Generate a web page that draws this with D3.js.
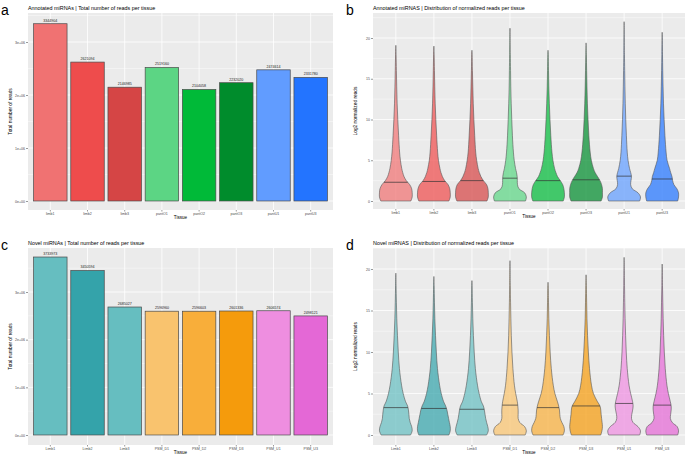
<!DOCTYPE html>
<html>
<head>
<meta charset="utf-8">
<script src="https://cdn.jsdelivr.net/npm/d3@7"></script>
<style>
  body { margin: 0; background: #fff; }
  text { font-family: "Liberation Sans", Arial, sans-serif; }
</style>
</head>
<body>
<div class="container"></div>
<script>
const w = 685
const h = 454

// panel a / c: total reads
const tissuesA = ["limb1","limb2","limb3","pantO1","pantO2","pantO3","pantU1","pantU3"]
const readsA = [3344904, 2621094, 2146985, 2519160, 2104058, 2232020, 2474614, 2331780]
const colorsA = ["#F07272","#EE4C4C","#D54545","#5CD584","#00BA38","#008C2C","#619CFF","#2374FF"]

const tissuesC = ["Limb1","Limb2","Limb3","PSM_D1","PSM_D2","PSM_D3","PSM_U1","PSM_U3"]
const readsC = [3733973, 3450594, 2685027, 2596960, 2596603, 2601336, 2606574, 2498121]
const colorsC = ["#66BEC0","#34A3AA","#66BEC0","#F9C36E","#F8AE3A","#F59B0C","#EE8EE0","#E468D6"]

const yTicksBars = [0, 1e6, 2e6, 3e6]
const yTicksViolin = [0, 5, 10, 15, 20]

// violin panels b / d: relative density at these log2 levels
const levels = [0, 0.5, 1, 1.5, 2, 2.5, 3, 3.5, 4, 5, 6, 8, 10, 12, 14, 16, 18]

const densB = [
  [0.92,1,1,0.97,0.85,0.64,0.5,0.42,0.36,0.28,0.23,0.17,0.12,0.08,0.055,0.035,0.015],
  [0.92,1,1,0.97,0.87,0.66,0.52,0.43,0.37,0.28,0.23,0.17,0.12,0.08,0.055,0.035,0.015],
  [0.92,1,1,0.98,0.9,0.7,0.55,0.45,0.38,0.29,0.23,0.17,0.12,0.08,0.055,0.03,0.01],
  [0.95,1,0.9,0.55,0.46,0.45,0.44,0.4,0.34,0.26,0.21,0.15,0.11,0.075,0.05,0.035,0.02],
  [0.93,1,1,0.97,0.9,0.75,0.58,0.48,0.4,0.3,0.24,0.17,0.12,0.08,0.05,0.03,0.01],
  [0.92,1,1,1,0.95,0.85,0.7,0.55,0.45,0.32,0.25,0.17,0.12,0.08,0.055,0.035,0.015],
  [0.95,1,0.85,0.5,0.4,0.42,0.45,0.4,0.33,0.24,0.19,0.14,0.1,0.07,0.05,0.035,0.02],
  [0.95,1,1,0.9,0.72,0.64,0.6,0.52,0.45,0.3,0.24,0.17,0.12,0.08,0.055,0.035,0.02]
]
const topsB = [19.1, 19.0, 18.5, 21.2, 18.5, 19.4, 22.0, 20.7]
const mediansB = [2.3, 2.4, 2.5, 2.8, 2.5, 2.6, 3.05, 2.7]

const densD = [
  [0.9,1,0.97,0.88,0.82,0.8,0.77,0.72,0.6,0.45,0.35,0.22,0.15,0.1,0.06,0.035,0.015],
  [0.92,1,1,0.95,0.9,0.85,0.8,0.72,0.6,0.45,0.35,0.22,0.15,0.1,0.06,0.035,0.015],
  [0.9,1,0.97,0.9,0.84,0.8,0.76,0.7,0.58,0.44,0.34,0.21,0.14,0.09,0.055,0.03,0.01],
  [0.93,1,0.9,0.6,0.5,0.5,0.5,0.48,0.45,0.35,0.27,0.18,0.12,0.08,0.055,0.035,0.02],
  [0.92,1,0.97,0.85,0.75,0.72,0.7,0.65,0.58,0.42,0.32,0.2,0.13,0.085,0.05,0.03,0.01],
  [0.9,0.97,1,0.98,0.95,0.92,0.9,0.85,0.7,0.45,0.33,0.21,0.14,0.09,0.055,0.035,0.015],
  [0.95,1,0.85,0.55,0.45,0.47,0.52,0.55,0.52,0.4,0.3,0.19,0.13,0.09,0.06,0.04,0.025],
  [0.95,1,0.92,0.62,0.5,0.52,0.55,0.55,0.5,0.38,0.29,0.19,0.13,0.09,0.06,0.04,0.02]
]
const topsD = [19.5, 19.1, 18.6, 21.0, 18.4, 19.3, 21.4, 20.6]
const mediansD = [3.3, 3.2, 3.1, 3.6, 3.3, 3.5, 3.8, 3.6]

const svg = d3.select(".container")
              .append("svg")
              .attr("width", w)
              .attr("height", h)

const fmtSci = d => d3.format(".0e")(d).replace(/e([+-])(\d)$/, "e$10$2")

function panel(box, cats, yScale, ticks, tickFmt, yTitle, letter, title) {
  const g = svg.append("g")
  const x = d3.scaleBand()
              .domain(cats)
              .range([box.x0, box.x1])
              .paddingInner(0.1)
              .paddingOuter(0.15)

  g.append("rect")
    .attr("x", box.x0).attr("y", box.y0)
    .attr("width", box.x1 - box.x0).attr("height", box.y1 - box.y0)
    .attr("fill", "#EBEBEB")

  // minor grid
  const step = ticks[1] - ticks[0]
  const minor = ticks.map(t => t + step / 2).filter(t => yScale(t) > box.y0)
  g.selectAll(".minor").data(minor).enter().append("line")
    .attr("x1", box.x0).attr("x2", box.x1)
    .attr("y1", d => yScale(d)).attr("y2", d => yScale(d))
    .attr("stroke", "#fff").attr("stroke-width", 0.4)

  g.selectAll(".major").data(ticks).enter().append("line")
    .attr("x1", box.x0).attr("x2", box.x1)
    .attr("y1", d => yScale(d)).attr("y2", d => yScale(d))
    .attr("stroke", "#fff").attr("stroke-width", 0.8)

  g.selectAll(".vgrid").data(cats).enter().append("line")
    .attr("x1", d => x(d) + x.bandwidth() / 2).attr("x2", d => x(d) + x.bandwidth() / 2)
    .attr("y1", box.y0).attr("y2", box.y1)
    .attr("stroke", "#fff").attr("stroke-width", 0.8)

  const yAxis = d3.axisLeft(yScale).tickValues(ticks).tickFormat(tickFmt).tickSize(2).tickPadding(1)
  const ya = g.append("g").attr("transform", `translate(${box.x0}, 0)`).call(yAxis)
  ya.select(".domain").remove()
  ya.selectAll("line").attr("stroke", "#333").attr("stroke-width", 0.5)
  ya.selectAll("text").attr("font-size", 3.6).attr("fill", "#4D4D4D")

  const xAxis = d3.axisBottom(x).tickSize(1.5).tickPadding(0.6).tickSizeOuter(0)
  const xa = g.append("g").attr("transform", `translate(0, ${box.y1})`).call(xAxis)
  xa.select(".domain").remove()
  xa.selectAll("line").attr("stroke", "#333").attr("stroke-width", 0.5)
  xa.selectAll("text").attr("font-size", 3.6).attr("fill", "#4D4D4D")

  g.append("text")
    .attr("x", (box.x0 + box.x1) / 2).attr("y", box.y1 + 8.6)
    .attr("text-anchor", "middle").attr("font-size", 4.6).text("Tissue")

  g.append("text")
    .attr("transform", `translate(${box.x0 - 16}, ${(box.y0 + box.y1) / 2}) rotate(-90)`)
    .attr("text-anchor", "middle").attr("font-size", 4.8).text(yTitle)

  g.append("text")
    .attr("x", box.x0).attr("y", box.y0 - 3.5)
    .attr("font-size", 5.4).text(title)

  g.append("text")
    .attr("x", box.x0 - 27).attr("y", box.y0 + 2)
    .attr("font-size", 14).text(letter)

  return { g, x }
}

function bars(box, cats, vals, cols, letter, title) {
  const y = d3.scaleLinear().domain([0, 3e6]).range([box.zero, box.top3])
  const { g, x } = panel(box, cats, y, yTicksBars, fmtSci, "Total number of reads", letter, title)
  g.selectAll(".bar").data(vals).enter().append("rect")
    .attr("x", (d, i) => x(cats[i]))
    .attr("y", d => y(d))
    .attr("width", x.bandwidth())
    .attr("height", d => y(0) - y(d))
    .attr("fill", (d, i) => cols[i])
    .attr("stroke", "#4a4a4a").attr("stroke-width", 0.7)
  g.selectAll(".lab").data(vals).enter().append("text")
    .attr("x", (d, i) => x(cats[i]) + x.bandwidth() / 2)
    .attr("y", d => y(d) - 2.2)
    .attr("text-anchor", "middle").attr("font-size", 3.6).attr("fill", "#222")
    .text(d => d)
}

function violins(box, cats, dens, tops, meds, cols, letter, title) {
  const y = d3.scaleLinear().domain([0, 20]).range([box.zero, box.top20])
  const { g, x } = panel(box, cats, y, yTicksViolin, d3.format("d"), "Log2 normalized reads", letter, title)
  const half = x.step() * 0.43
  const area = d3.area()
                 .y(p => y(p.v))
                 .curve(d3.curveCatmullRom.alpha(0.5))
  cats.forEach((c, i) => {
    const cx = x(c) + x.bandwidth() / 2
    const pts = levels.map((v, j) => ({ v, d: dens[i][j] }))
    pts.push({ v: tops[i], d: 0 })
    area.x0(p => cx - p.d * half).x1(p => cx + p.d * half)
    g.append("path").datum(pts)
      .attr("d", area)
      .attr("fill", cols[i]).attr("fill-opacity", 0.72)
      .attr("stroke", "#555").attr("stroke-width", 0.6)
    // median line, width read from the same profile
    const k = d3.bisectRight(levels, meds[i]) - 1
    const t = (meds[i] - levels[k]) / (levels[k + 1] - levels[k])
    const wd = (dens[i][k] + t * (dens[i][k + 1] - dens[i][k])) * half
    g.append("line")
      .attr("x1", cx - wd).attr("x2", cx + wd)
      .attr("y1", y(meds[i])).attr("y2", y(meds[i]))
      .attr("stroke", "#333").attr("stroke-width", 0.7)
  })
}

bars({ x0: 28, x1: 333, y0: 13, y1: 210, zero: 201, top3: 42 },
     tissuesA, readsA, colorsA, "a", "Annotated miRNAs | Total number of reads per tissue")
violins({ x0: 373, x1: 685, y0: 13, y1: 209, zero: 201, top20: 38 },
     tissuesA, densB, topsB, mediansB, colorsA, "b", "Annotated miRNAS | Distribution of normalized reads per tissue")
bars({ x0: 28, x1: 333, y0: 248, y1: 445, zero: 435, top3: 292 },
     tissuesC, readsC, colorsC, "c", "Novel miRNAs | Total number of reads per tissue")
violins({ x0: 373, x1: 685, y0: 248, y1: 445, zero: 435, top20: 269 },
     tissuesC, densD, topsD, mediansD, colorsC, "d", "Novel miRNAS | Distribution of normalized reads per tissue")
</script>
</body>
</html>
